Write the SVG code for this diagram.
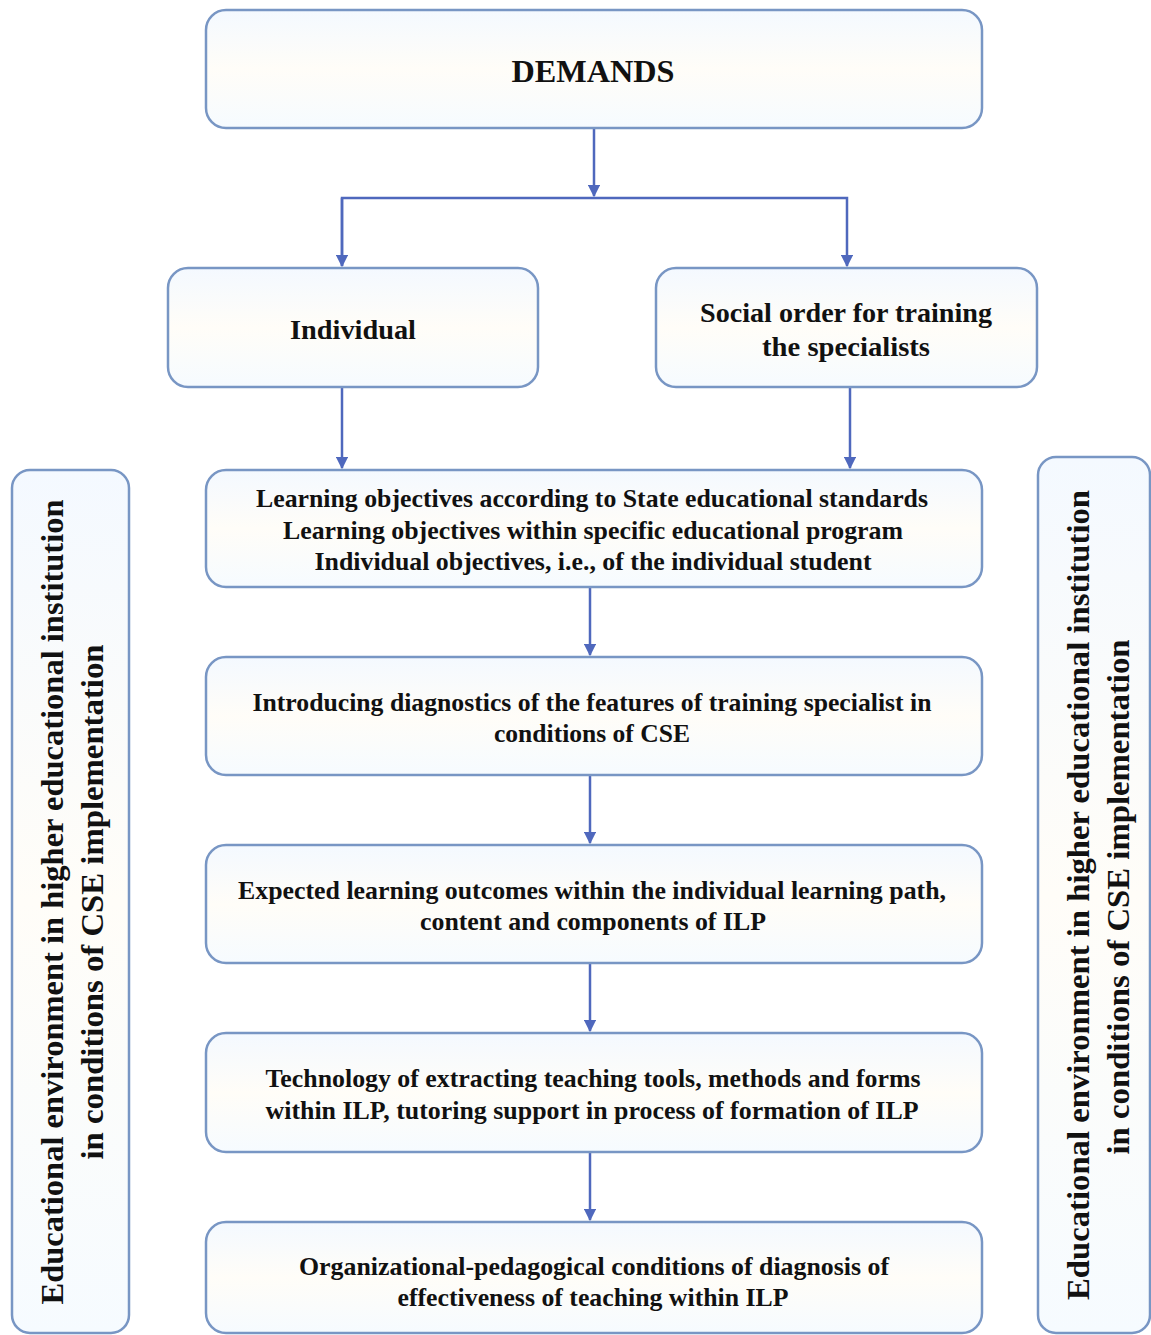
<svg xmlns="http://www.w3.org/2000/svg" width="1151" height="1335" viewBox="0 0 1151 1335">
<defs>
<linearGradient id="g" x1="0" y1="0" x2="0" y2="1">
<stop offset="0" stop-color="#f4f9ff"/><stop offset="0.5" stop-color="#fffdf8"/><stop offset="1" stop-color="#f6fbff"/>
</linearGradient>
<marker id="ah" viewBox="0 0 10 10" refX="9" refY="5" markerWidth="5" markerHeight="5" orient="auto" markerUnits="strokeWidth">
<path d="M0,0 L10,5 L0,10 z" fill="#4f68bd"/>
</marker>
<style>
.box{fill:url(#g);stroke:#7896c4;stroke-width:2.5}
.t{font-family:"Liberation Serif","Times New Roman",serif;font-weight:bold;fill:#111;text-anchor:middle}
.b{font-size:25px}
.c{stroke:#4f68bd;stroke-width:2.5;fill:none}
</style>
</defs>
<rect width="1151" height="1335" fill="#fff"/>
<g id="connectors">
<line class="c" x1="594" y1="128" x2="594" y2="196" marker-end="url(#ah)"/>
<polyline class="c" points="342,266 342,198 847,198 847,266" marker-end="url(#ah)"/>
<line class="c" x1="342" y1="198" x2="342" y2="266" marker-end="url(#ah)"/>
<line class="c" x1="342" y1="387" x2="342" y2="468" marker-end="url(#ah)"/>
<line class="c" x1="850" y1="387" x2="850" y2="468" marker-end="url(#ah)"/>
<line class="c" x1="590" y1="587" x2="590" y2="655" marker-end="url(#ah)"/>
<line class="c" x1="590" y1="775" x2="590" y2="843" marker-end="url(#ah)"/>
<line class="c" x1="590" y1="963" x2="590" y2="1031" marker-end="url(#ah)"/>
<line class="c" x1="590" y1="1152" x2="590" y2="1220" marker-end="url(#ah)"/>
</g>
<g id="demands">
<rect class="box" x="206" y="10" width="776" height="118" rx="20"/>
<text class="t" x="593" y="82" font-size="32" textLength="163" lengthAdjust="spacingAndGlyphs">DEMANDS</text>
</g>
<g id="individual">
<rect class="box" x="168" y="268" width="370" height="119" rx="20"/>
<text class="t" x="353" y="339" font-size="28" textLength="126" lengthAdjust="spacingAndGlyphs">Individual</text>
</g>
<g id="social">
<rect class="box" x="656" y="268" width="381" height="119" rx="20"/>
<text class="t" x="846" y="322" font-size="28" textLength="292" lengthAdjust="spacingAndGlyphs">Social order for training</text>
<text class="t" x="846" y="356" font-size="28" textLength="168" lengthAdjust="spacingAndGlyphs">the specialists</text>
</g>
<g id="objectives">
<rect class="box" x="206" y="470" width="776" height="117" rx="20"/>
<text class="t b" x="592" y="507" textLength="672" lengthAdjust="spacingAndGlyphs">Learning objectives according to State educational standards</text>
<text class="t b" x="593" y="539" textLength="620" lengthAdjust="spacingAndGlyphs">Learning objectives within specific educational program</text>
<text class="t b" x="593" y="570" textLength="557" lengthAdjust="spacingAndGlyphs">Individual objectives, i.e., of the individual student</text>
</g>
<g id="diagnostics">
<rect class="box" x="206" y="657" width="776" height="118" rx="20"/>
<text class="t b" x="592" y="711" textLength="679" lengthAdjust="spacingAndGlyphs">Introducing diagnostics of the features of training specialist in</text>
<text class="t b" x="592" y="742" textLength="196" lengthAdjust="spacingAndGlyphs">conditions of CSE</text>
</g>
<g id="outcomes">
<rect class="box" x="206" y="845" width="776" height="118" rx="20"/>
<text class="t b" x="592" y="899" textLength="708" lengthAdjust="spacingAndGlyphs">Expected learning outcomes within the individual learning path,</text>
<text class="t b" x="593" y="930" textLength="346" lengthAdjust="spacingAndGlyphs">content and components of ILP</text>
</g>
<g id="technology">
<rect class="box" x="206" y="1033" width="776" height="119" rx="20"/>
<text class="t b" x="593" y="1087" textLength="655" lengthAdjust="spacingAndGlyphs">Technology of extracting teaching tools, methods and forms</text>
<text class="t b" x="592" y="1119" textLength="653" lengthAdjust="spacingAndGlyphs">within ILP, tutoring support in process of formation of ILP</text>
</g>
<g id="conditions">
<rect class="box" x="206" y="1222" width="776" height="111" rx="20"/>
<text class="t b" x="594" y="1275" textLength="590" lengthAdjust="spacingAndGlyphs">Organizational-pedagogical conditions of diagnosis of</text>
<text class="t b" x="593" y="1306" textLength="391" lengthAdjust="spacingAndGlyphs">effectiveness of teaching within ILP</text>
</g>
<g id="env-left">
<rect class="box" x="12" y="470" width="117" height="863" rx="18"/>
<text class="t" transform="translate(63,902) rotate(-90)" font-size="32" textLength="805" lengthAdjust="spacingAndGlyphs">Educational environment in higher educational institution</text>
<text class="t" transform="translate(103,902) rotate(-90)" font-size="32" textLength="515" lengthAdjust="spacingAndGlyphs">in conditions of CSE implementation</text>
</g>
<g id="env-right">
<rect class="box" x="1038" y="457" width="112" height="876" rx="18"/>
<text class="t" transform="translate(1089,895) rotate(-90)" font-size="32" textLength="810" lengthAdjust="spacingAndGlyphs">Educational environment in higher educational institution</text>
<text class="t" transform="translate(1129,897) rotate(-90)" font-size="32" textLength="515" lengthAdjust="spacingAndGlyphs">in conditions of CSE implementation</text>
</g>
</svg>
